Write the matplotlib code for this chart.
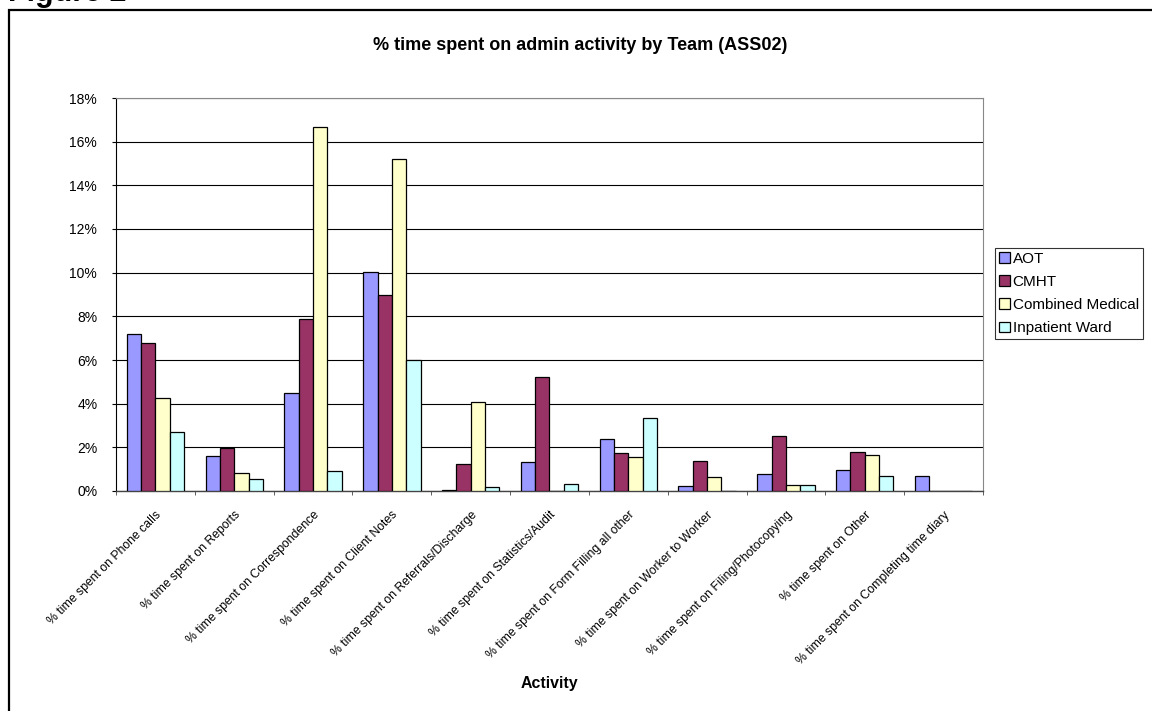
import numpy as np
import matplotlib.pyplot as plt
from matplotlib.patches import Rectangle
from matplotlib.ticker import PercentFormatter, FixedLocator

plt.rcParams['font.family'] = ['Liberation Sans', 'DejaVu Sans']

activities = ["% time spent on Phone calls", "% time spent on Reports",
              "% time spent on Correspondence", "% time spent on Client Notes",
              "% time spent on Referrals/Discharge", "% time spent on Statistics/Audit",
              "% time spent on Form Filling all other", "% time spent on Worker to Worker",
              "% time spent on Filing/Photocopying", "% time spent on Other",
              "% time spent on Completing time diary"]

teams = ["AOT", "CMHT", "Combined Medical", "Inpatient Ward"]

aot = [7.18, 1.59, 4.51, 10.01, 0.05, 1.34, 2.40, 0.21, 0.76, 0.98, 0.70]
cmht = [6.78, 1.99, 7.90, 8.97, 1.25, 5.21, 1.76, 1.39, 2.51, 1.79, 0.0]
combined = [4.26, 0.84, 16.67, 15.19, 4.06, 0.0, 1.56, 0.66, 0.26, 1.64, 0.0]
inpatient = [2.70, 0.55, 0.93, 5.99, 0.20, 0.34, 3.35, 0.0, 0.28, 0.70, 0.0]

colors = ['#9999FF', '#993366', '#FFFFCC', '#CCFFFF']

fig = plt.figure(figsize=(11.52, 7.11), dpi=100)

# outer frame of the pasted chart, runs off the right and bottom edges
fig.patches.append(Rectangle((9/1152, -0.05), 1.2, 1 - 10/711 + 0.05,
                             transform=fig.transFigure, fill=False,
                             edgecolor='black', linewidth=1.6))
# caption above the frame, mostly cropped away in the source
fig.text(8/1152, 1 - 1/711, "Figure 2", fontsize=22, fontweight='bold',
         va='baseline', ha='left')

ax = fig.add_axes([116/1152, 1 - 491/711, (983 - 116)/1152, (491 - 98)/711])

x = np.arange(len(activities))
w = 1 / 5.5
series = [aot, cmht, combined, inpatient]
for i, (vals, name) in enumerate(zip(series, teams)):
    heights = np.array(vals)
    ax.bar(x + (i - 1.5) * w, heights, width=w, color=colors[i],
           edgecolor='black', linewidth=0.9, label=name, zorder=3)

ax.set_xlim(-0.5, len(activities) - 0.5)
ax.set_ylim(0, 18)
ax.set_yticks(np.arange(0, 19, 2))
ax.yaxis.set_major_formatter(PercentFormatter(decimals=0))
ax.grid(axis='y', color='black', linewidth=0.8, zorder=0)

ax.set_xticks(x)
ax.set_xticklabels(activities, rotation=45, ha='right', rotation_mode='anchor',
                   fontsize=8.8)
ax.xaxis.set_minor_locator(FixedLocator(np.arange(-0.5, len(activities), 1)))
ax.tick_params(axis='x', which='major', length=0, pad=13)
ax.tick_params(axis='x', which='minor', length=3, color='#444444')
ax.tick_params(axis='y', labelsize=10, length=3, pad=10.5)

for s in ['top', 'right']:
    ax.spines[s].set_color('#888888')
ax.spines['bottom'].set_color('#444444')
ax.spines['bottom'].set_linewidth(1.0)
ax.spines['left'].set_linewidth(0.8)

ax.set_xlabel("Activity", fontsize=11.4, fontweight='bold')
ax.xaxis.set_label_coords(0.5, -0.472)
fig.text(580/1152, 1 - 45/711, "% time spent on admin activity by Team (ASS02)",
         fontsize=13, fontweight='bold', ha='center', va='center')

leg = ax.legend(loc='upper left', bbox_to_anchor=(995/1152, 1 - 248/711),
                bbox_transform=fig.transFigure, fontsize=11, frameon=True,
                fancybox=False, edgecolor='black', borderpad=0.25,
                handlelength=0.7, handleheight=0.7, handletextpad=0.2,
                labelspacing=0.6, borderaxespad=0)
leg.get_frame().set_linewidth(0.8)

fig.savefig('out.png', dpi=100)
